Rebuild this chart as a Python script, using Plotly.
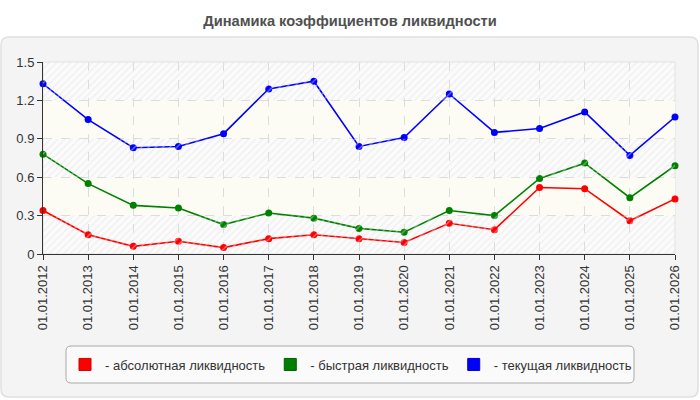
"""
Динамика коэффициентов ликвидности — line chart of three liquidity ratios.
"""

import plotly.graph_objects as go

dates = [
    "01.01.2012", "01.01.2013", "01.01.2014", "01.01.2015", "01.01.2016",
    "01.01.2017", "01.01.2018", "01.01.2019", "01.01.2020", "01.01.2021",
    "01.01.2022", "01.01.2023", "01.01.2024", "01.01.2025", "01.01.2026",
]
absolute_liq = [0.34, 0.15, 0.06, 0.10, 0.05, 0.12, 0.15, 0.12, 0.09, 0.24, 0.19, 0.52, 0.51, 0.26, 0.43]
quick_liq = [0.78, 0.55, 0.38, 0.36, 0.23, 0.32, 0.28, 0.20, 0.17, 0.34, 0.30, 0.59, 0.71, 0.44, 0.69]
current_liq = [1.33, 1.05, 0.83, 0.84, 0.94, 1.29, 1.35, 0.84, 0.91, 1.25, 0.95, 0.98, 1.11, 0.77, 1.07]

series = [
    ("- абсолютная ликвидность", absolute_liq, "#ff0000", "#cc0000"),
    ("- быстрая ликвидность", quick_liq, "#008000", "#006000"),
    ("- текущая ликвидность", current_liq, "#0000ff", "#0000cc"),
]

W, H = 700, 400
ML, MR, MT, MB = 43, 25, 62, 146
PW, PH = W - ML - MR, H - MT - MB


def px_x(x):
    return (x - ML) / PW


def px_y(y):
    return (H - MB - y) / PH


def round_rect(x0, y0, x1, y1, r):
    """Rounded rectangle path in paper coords from pixel corners."""
    rx, ry = r / PW, r / PH
    a, b, c, d = px_x(x0), px_y(y1), px_x(x1), px_y(y0)  # left, bottom, right, top
    return (f"M{a + rx},{d} L{c - rx},{d} Q{c},{d} {c},{d - ry} "
            f"L{c},{b + ry} Q{c},{b} {c - rx},{b} L{a + rx},{b} "
            f"Q{a},{b} {a},{b + ry} L{a},{d - ry} Q{a},{d} {a + rx},{d} Z")


fig = go.Figure()

# hatched bands on an invisible overlay axis
for y0, y1 in [(0, 0.3), (0.6, 0.9), (1.2, 1.5)]:
    fig.add_trace(go.Scatter(
        x=[0, 1, 1, 0, 0], y=[y0, y0, y1, y1, y0], xaxis="x2",
        mode="lines", fill="toself", line=dict(width=0),
        fillcolor="rgba(0,0,0,0)",
        fillpattern=dict(shape="/", fgcolor="#e2e2e2", bgcolor="rgba(0,0,0,0)",
                         size=5, solidity=0.25),
        hoverinfo="skip", showlegend=False,
    ))

for name, vals, color, _ in series:
    fig.add_trace(go.Scatter(
        x=dates, y=vals, mode="lines+markers", name=name,
        line=dict(color=color, width=1.6),
        marker=dict(color=color, size=7),
        cliponaxis=False, showlegend=False,
    ))

# legend swatches
for name, _, color, edge in series:
    fig.add_trace(go.Bar(
        x=[None], y=[None], name=name,
        marker=dict(color=color, line=dict(color=edge, width=1)),
    ))

shapes = [
    dict(type="path", xref="paper", yref="paper", layer="below",
         path=round_rect(1, 37, 698, 397, 8),
         fillcolor="#f4f4f4", line=dict(color="#e0e0e0", width=1.5)),
    dict(type="rect", xref="paper", yref="paper", layer="below",
         x0=0, x1=1, y0=0, y1=1, fillcolor="#fbfbfb", line=dict(color="#e2e2e2", width=1)),
    dict(type="path", xref="paper", yref="paper", layer="below",
         path=round_rect(66, 346, 634, 383, 5),
         fillcolor="#fafafa", line=dict(color="#aaaaaa", width=1)),
]
for y0, y1 in [(0.3, 0.6), (0.9, 1.2)]:
    shapes.append(dict(type="rect", xref="paper", yref="y", layer="below",
                       x0=0, x1=1, y0=y0, y1=y1, fillcolor="#fcfcf4", line=dict(width=0)))

fig.update_layout(
    width=W, height=H,
    paper_bgcolor="#ffffff", plot_bgcolor="rgba(0,0,0,0)",
    font=dict(family="Liberation Sans, Arial", size=13, color="#333333"),
    title=dict(text="<b>Динамика коэффициентов ликвидности</b>", x=0.5, xanchor="center",
               y=1 - 21 / H, yanchor="middle", font=dict(size=14.67, color="#505050")),
    margin=dict(l=ML, r=MR, t=MT, b=MB, pad=0),
    xaxis=dict(type="category", range=[0, len(dates) - 1], tickangle=-90,
               showgrid=True, gridcolor="#dcdcdc", griddash="dash", gridwidth=1,
               showline=True, linecolor="#333333", linewidth=1,
               ticks="outside", ticklen=5, tickcolor="#333333",
               tickfont=dict(size=13, color="#333333"), zeroline=False),
    xaxis2=dict(overlaying="x", range=[0, 1], visible=False),
    yaxis=dict(range=[0, 1.5], dtick=0.3, tick0=0,
               showgrid=True, gridcolor="#dcdcdc", griddash="dash", gridwidth=1,
               showline=True, linecolor="#333333", linewidth=1,
               ticks="outside", ticklen=5, tickcolor="#333333",
               tickfont=dict(size=13, color="#333333"), zeroline=False),
    legend=dict(orientation="h", x=px_x(65), xanchor="left", y=px_y(364.5), yanchor="middle",
                bgcolor="rgba(0,0,0,0)", borderwidth=0,
                font=dict(size=13, color="#333333"), itemclick=False, itemdoubleclick=False),
    shapes=shapes,
    showlegend=True,
)

# drop the default body margin so the 700x400 figure fills the window
fig.write_html("out.html", config={"displayModeBar": False},
               post_script="document.body.style.margin='0';")
